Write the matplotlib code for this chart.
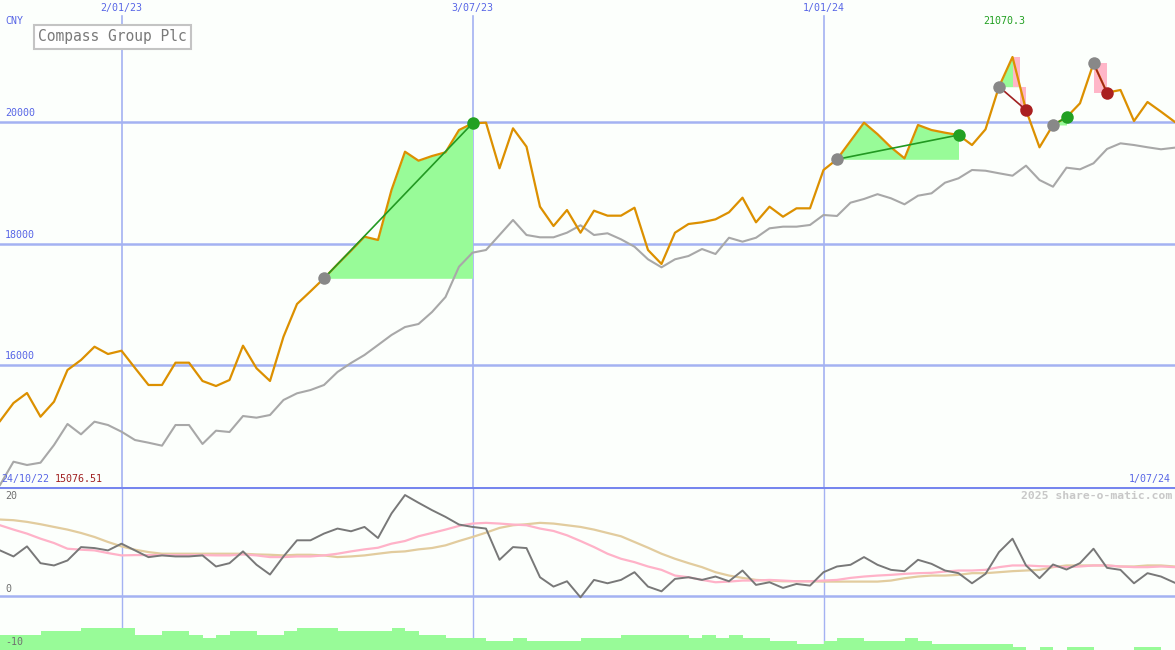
import numpy as np
import matplotlib.pyplot as plt

W, H = 1175, 650
STEP = 13.5  # pixels per weekly point

# weekly close (orange) and comparison index (grey), same scale
price = [15077, 15374, 15539, 15149, 15396, 15918, 16082, 16301, 16181, 16235,
         15951, 15671, 15671, 16038, 16038, 15737, 15654, 15753, 16318, 15946,
         15737, 16466, 17004, 17213, 17427, 17658, 17881, 18112, 18058, 18881,
         19511, 19363, 19440, 19501, 19868, 19978, 19989, 19238, 19896, 19594,
         18606, 18288, 18551, 18178, 18540, 18458, 18458, 18589, 17893, 17663,
         18178, 18321, 18349, 18398, 18514, 18754, 18349, 18606, 18441, 18579,
         18579, 19210, 19386, 19687, 19989, 19800, 19583, 19402, 19951, 19868,
         19824, 19786, 19621, 19879, 20581, 21070, 20198, 19583, 19951, 20077,
         20308, 20966, 20483, 20527, 20016, 20329, 20170, 20005]
index_line = [14025, 14408, 14354, 14392, 14683, 15029, 14859, 15067, 15012, 14902,
              14765, 14721, 14672, 15012, 15012, 14700, 14919, 14897, 15160, 15133,
              15177, 15424, 15534, 15588, 15671, 15885, 16033, 16165, 16329, 16494,
              16625, 16675, 16872, 17119, 17618, 17849, 17893, 18140, 18387, 18140,
              18102, 18102, 18178, 18300, 18140, 18168, 18069, 17947, 17740, 17608,
              17740, 17794, 17909, 17827, 18095, 18030, 18095, 18250, 18277, 18277,
              18305, 18469, 18453, 18672, 18733, 18812, 18744, 18645, 18787, 18826,
              19001, 19073, 19210, 19198, 19156, 19116, 19281, 19045, 18935, 19248,
              19221, 19320, 19556, 19649, 19621, 19584, 19551, 19577]

# lower panel
momentum = [8.33, 7.22, 9.07, 5.98, 5.56, 6.48, 8.94, 8.76, 8.33, 9.57,
            8.33, 7.09, 7.41, 7.22, 7.22, 7.41, 5.37, 5.98, 8.15, 5.69,
            3.89, 7.22, 10.19, 10.19, 11.43, 12.35, 11.85, 12.65, 10.61, 15.13,
            18.52, 17.1, 15.74, 14.5, 13.09, 12.65, 12.35, 6.6, 8.94, 8.76,
            3.39, 1.67, 2.65, -0.31, 2.9, 2.28, 2.9, 4.32, 1.67, 0.8,
            3.09, 3.39, 2.9, 3.52, 2.65, 4.63, 1.98, 2.47, 1.42, 2.16,
            1.85, 4.32, 5.37, 5.68, 7.1, 5.68, 4.75, 4.5, 6.6, 5.86,
            4.63, 4.14, 2.28, 4.01, 8.02, 10.49, 5.56, 3.21, 5.74, 4.81,
            5.99, 8.64, 5.12, 4.75, 2.28, 4.14, 3.52, 2.4]
ma_fast = [12.96, 12.16, 11.42, 10.49, 9.69, 8.64, 8.46, 8.33, 7.84, 7.41,
           7.47, 7.47, 7.47, 7.47, 7.47, 7.47, 7.41, 7.41, 7.59, 7.41,
           7.1, 7.1, 7.22, 7.22, 7.41, 7.72, 8.15, 8.52, 8.82, 9.57,
           10.06, 10.93, 11.54, 12.16, 12.84, 13.27, 13.4, 13.27, 13.09, 12.96,
           12.35, 11.91, 11.11, 10.06, 8.95, 7.72, 6.79, 6.17, 5.37, 4.75,
           3.7, 3.39, 2.9, 2.47, 2.59, 2.78, 2.78, 2.9, 2.78, 2.65,
           2.65, 2.78, 2.9, 3.27, 3.52, 3.7, 3.83, 4.01, 4.14, 4.2,
           4.44, 4.63, 4.63, 4.75, 5.25, 5.56, 5.56, 5.43, 5.37, 5.25,
           5.37, 5.56, 5.56, 5.37, 5.25, 5.25, 5.37, 5.25]
ma_slow = [14.01, 13.89, 13.58, 13.15, 12.65, 12.16, 11.54, 10.8, 9.88, 9.07,
           8.46, 8.02, 7.72, 7.72, 7.72, 7.72, 7.72, 7.72, 7.72, 7.59,
           7.53, 7.41, 7.53, 7.53, 7.41, 7.1, 7.22, 7.41, 7.72, 8.02,
           8.15, 8.52, 8.77, 9.26, 10.06, 10.8, 11.6, 12.47, 12.96, 13.15,
           13.4, 13.27, 12.96, 12.65, 12.16, 11.54, 10.93, 9.88, 8.83, 7.72,
           6.79, 5.99, 5.25, 4.32, 3.7, 3.27, 2.9, 2.78, 2.65, 2.65,
           2.65, 2.59, 2.59, 2.59, 2.59, 2.59, 2.78, 3.21, 3.52, 3.7,
           3.7, 3.83, 4.14, 4.14, 4.32, 4.51, 4.63, 4.75, 5.25, 5.56,
           5.56, 5.56, 5.56, 5.37, 5.37, 5.56, 5.56, 5.37]
volume = [2.76, 2.76, 2.76, 3.5, 3.5, 3.5, 4.1, 4.1, 4.1, 4.1,
          2.76, 2.76, 3.5, 3.5, 2.76, 2.27, 2.76, 3.5, 3.5, 2.76,
          2.76, 3.5, 4.1, 4.1, 4.1, 3.5, 3.5, 3.5, 3.5, 4.1,
          3.5, 2.76, 2.76, 2.27, 2.27, 2.27, 1.66, 1.66, 2.27, 1.66,
          1.66, 1.66, 1.66, 2.27, 2.27, 2.27, 2.76, 2.76, 2.76, 2.76,
          2.76, 2.27, 2.76, 2.27, 2.76, 2.27, 2.27, 1.66, 1.66, 1.1,
          1.1, 1.66, 2.27, 2.27, 1.66, 1.66, 1.66, 2.27, 1.66, 1.1,
          1.1, 1.1, 1.1, 1.1, 1.1, 0.61, 0, 0.61, 0, 0.61,
          0.61, 0, 0, 0, 0.61, 0.61, 0, 0]

# (entry week, exit week)
trades = [(24, 35), (62, 71), (74, 76), (78, 79), (81, 82)]

date_ticks = [9, 35, 61]
date_labels = ["2/01/23", "3/07/23", "1/01/24"]
price_grid = [16000, 18000, 20000]

BG = "#fcfffc"
GRID = "#a4b2f2"
BLUE_TXT = "#5866e6"
MONO = "DejaVu Sans Mono"

x = np.arange(len(price))
p = np.array(price, dtype=float)

fig = plt.figure(figsize=(W / 100, H / 100), dpi=100, facecolor=BG)
ax1 = fig.add_axes([0, 163 / H, 1, 487 / H], facecolor=BG)
ax2 = fig.add_axes([0, 0, 1, 163 / H], facecolor=BG)
for ax in (ax1, ax2):
    ax.set_xlim(0, W / STEP)
    ax.set_xticks([])
    ax.set_yticks([])
    for s in ax.spines.values():
        s.set_visible(False)

px_per_unit = 121.5 / 2000
ax1.set_ylim(20000 - 365 / px_per_unit, 20000 + 122 / px_per_unit)
ax2.set_ylim(-10, 20)

# grid
for g in price_grid:
    ax1.axhline(g, color=GRID, lw=1.8, zorder=1)
    ax1.text(5 / W, g + 60, str(g), color=BLUE_TXT, fontsize=7.2, family=MONO,
             va="bottom", ha="left", transform=ax1.get_yaxis_transform())
for t, lab in zip(date_ticks, date_labels):
    ax1.axvline(t, ymin=0, ymax=1 - 16 / 487, color=GRID, lw=1.2, zorder=1)
    ax2.axvline(t, color=GRID, lw=1.0, zorder=1)
    ax1.text(t, 1 - 8 / 487, lab, color=BLUE_TXT, fontsize=7.2, family=MONO,
             ha="center", va="center", transform=ax1.get_xaxis_transform())

# trades: fills, lines, markers
for a, b in trades:
    entry, exit_ = p[a], p[b]
    xs = np.linspace(a, b, (b - a) * 20 + 1)
    ys = np.interp(xs, x, p)
    ax1.fill_between(xs, entry, ys, where=ys >= entry, interpolate=True,
                     color="#98fb98", lw=0, zorder=2)
    if exit_ < entry:
        k = a + int(np.argmax(p[a:b + 1]))
        peak = p[k]
        cross = k
        for j in range(k, b):
            if p[j] >= entry > p[j + 1]:
                cross = j + (p[j] - entry) / (p[j] - p[j + 1])
                break
        if cross > k:
            ax1.fill_between([k, cross], entry, peak, color="#ffb6c8", lw=0, zorder=2)
        ax1.fill_between([cross, b], exit_, entry, color="#ffb6c8", lw=0, zorder=2)

ax1.plot(x, index_line, color="#a8a8a8", lw=1.5, zorder=3)
ax1.plot(x, p, color="#dc9000", lw=1.6, zorder=4)

for a, b in trades:
    win = p[b] >= p[a]
    ax1.plot([a, b], [p[a], p[b]], color="#229922" if win else "#a02020",
             lw=1.2, zorder=5)
    ax1.plot(a, p[a], "o", ms=9, color="#888888", mec="none", zorder=6)
    ax1.plot(b, p[b], "o", ms=9, color="#22a022" if win else "#aa2020",
             mec="none", zorder=6)

# lower panel
ax2.bar(x, volume, bottom=-10, width=1.0, align="edge", color="#98fb98",
        lw=0, zorder=2)
ax2.axhline(0, color=GRID, lw=1.8, zorder=1)
ax2.axhline(20, color="#7686ee", lw=2.2, zorder=6)
ax2.plot(x, ma_slow, color="#e2cc9e", lw=1.6, zorder=3)
ax2.plot(x, ma_fast, color="#ffb2c8", lw=1.6, zorder=3)
ax2.plot(x, momentum, color="#787878", lw=1.4, zorder=4)


def fx(px):
    return px / W


def fy(py):
    return 1 - py / H


fig.text(fx(5), fy(21), "CNY", color=BLUE_TXT, fontsize=7.2, family=MONO, va="center")
fig.text(fx(38), fy(37), "Compass Group Plc", color="#7a7a7a", fontsize=10.5,
         family=MONO, va="center",
         bbox=dict(boxstyle="square,pad=0.3", fc="white", ec="#c4c4c4", lw=1.5))
fig.text(fx(1004), fy(21), "21070.3", color="#22a022", fontsize=7.2, family=MONO,
         ha="center", va="center")
fig.text(fx(1), fy(479), "24/10/22", color=BLUE_TXT, fontsize=7.2, family=MONO, va="center")
fig.text(fx(55), fy(479), "15076.51", color="#a02020", fontsize=7.2, family=MONO, va="center")
fig.text(fx(1171), fy(479), "1/07/24", color=BLUE_TXT, fontsize=7.2, family=MONO,
         ha="right", va="center")
fig.text(fx(1172), fy(496), "2025 share-o-matic.com", color="#c8c8c8", fontsize=8.2,
         family=MONO, weight="bold", ha="right", va="center")
fig.text(fx(5), fy(496), "20", color="#707070", fontsize=7.2, family=MONO, va="center")
fig.text(fx(5), fy(589), "0", color="#707070", fontsize=7.2, family=MONO, va="center")
fig.text(fx(5), fy(642), "-10", color="#707070", fontsize=7.2, family=MONO, va="center")

fig.savefig("out.png", dpi=100, facecolor=BG)
